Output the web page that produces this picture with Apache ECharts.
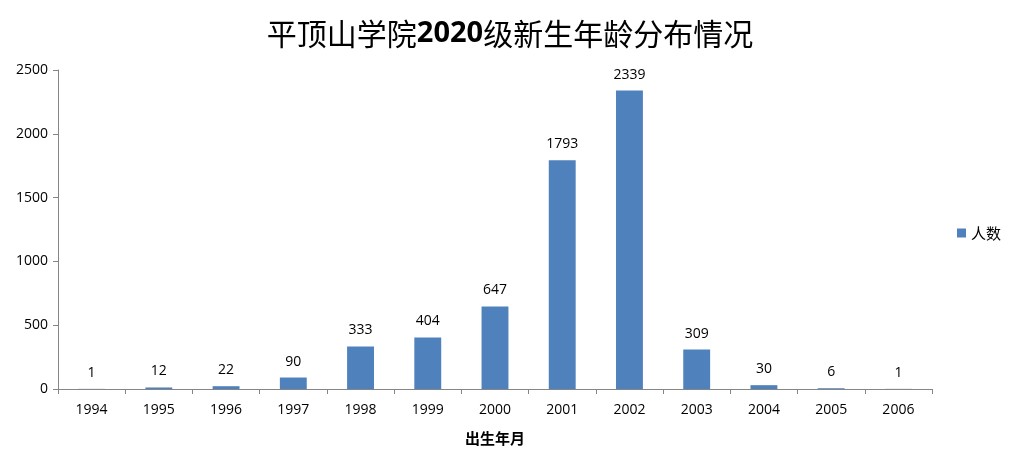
<!DOCTYPE html>
<html><head><meta charset="utf-8">
<script src="https://cdn.jsdelivr.net/npm/echarts@6/dist/echarts.min.js"></script>
<style>html,body{margin:0;padding:0;background:#fff}#c{width:1020px;height:466px}</style>
</head><body><div id="c"></div>
<script>
const categories = ['1994','1995','1996','1997','1998','1999','2000','2001','2002','2003','2004','2005','2006'];
const counts = [1,12,22,90,333,404,647,1793,2339,309,30,6,1];
const yTicks = [0,500,1000,1500,2000,2500];
const seriesName = '人数';
const chart = echarts.init(document.getElementById('c'));
const axisColor = '#868686';
const font = '"Open Sans", "Noto Sans CJK SC", sans-serif';
const cjk = '"Noto Sans CJK SC", sans-serif';
chart.setOption({
  animation: false,
  title: {
    text: '{a|平顶山学院}{b|2020}{a|级新生年龄分布情况}',
    left: 'center', top: 14,
    textStyle: {
      rich: {
        a: {fontFamily: cjk, fontSize: 30, fontWeight: 'normal', color: '#000'},
        b: {fontFamily: '"Open Sans", sans-serif', fontSize: 29, fontWeight: 'bold', color: '#000'}
      }
    }
  },
  legend: {
    right: 14, top: 'middle', orient: 'vertical',
    itemWidth: 9, itemHeight: 9, itemGap: 6,
    icon: 'rect',
    textStyle: {fontFamily: cjk, fontSize: 15, color: '#000'},
    data: [seriesName]
  },
  grid: {left: 58, right: 88, top: 70, bottom: 77, containLabel: false},
  xAxis: {
    type: 'category', data: categories,
    name: '出生年月', nameLocation: 'middle', nameGap: 42,
    nameTextStyle: {fontFamily: cjk, fontSize: 15, fontWeight: 'bold', color: '#000'},
    axisLine: {lineStyle: {color: axisColor}},
    axisTick: {show: true, length: 5, lineStyle: {color: axisColor}, alignWithLabel: false},
    axisLabel: {fontFamily: font, fontSize: 14, color: '#000', margin: 14}
  },
  yAxis: {
    type: 'value', min: 0, max: yTicks[yTicks.length-1], interval: 500,
    axisLine: {show: true, lineStyle: {color: axisColor}},
    axisTick: {show: true, length: 5, lineStyle: {color: axisColor}},
    splitLine: {show: false},
    axisLabel: {fontFamily: font, fontSize: 14, color: '#000', margin: 10, formatter: v => String(v)}
  },
  series: [{
    name: seriesName, type: 'bar', data: counts, barWidth: '40%',
    itemStyle: {color: '#4f81bd'},
    label: {show: true, position: 'top', distance: 9, fontFamily: font, fontSize: 14, color: '#000'}
  }]
});
</script></body></html>
